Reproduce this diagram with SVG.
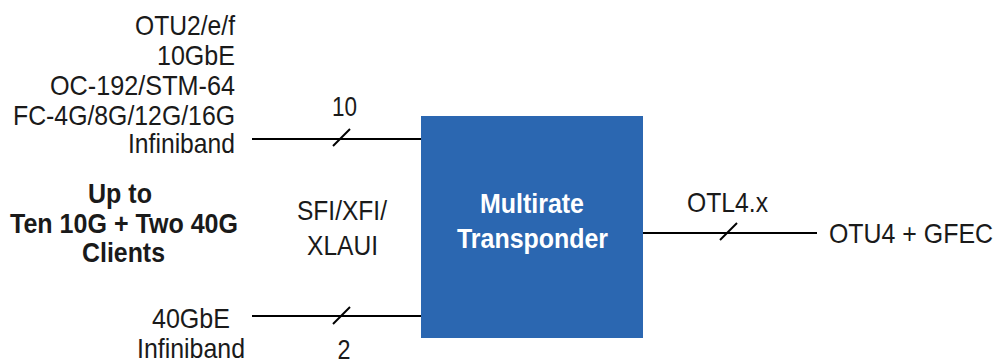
<svg xmlns="http://www.w3.org/2000/svg" width="997" height="360" viewBox="0 0 997 360">
  <style>
    .t { font-family: "Liberation Sans", Arial, sans-serif; font-size: 28px; fill: #1a1a1a; }
    .b { font-family: "Liberation Sans", Arial, sans-serif; font-size: 28px; font-weight: bold; fill: #1a1a1a; }
    .w { font-family: "Liberation Sans", Arial, sans-serif; font-size: 28px; font-weight: bold; fill: #ffffff; }
    .ln { stroke: #000000; stroke-width: 2.2; fill: none; }
    .sl { stroke: #000000; stroke-width: 2; fill: none; }
  </style>
  <rect width="997" height="360" fill="#ffffff"/>

  <g id="connectors">
    <line class="ln" x1="252" y1="139" x2="422" y2="139"/>
    <line class="sl" x1="333" y1="146" x2="350" y2="129"/>
    <line class="ln" x1="252" y1="316" x2="422" y2="316"/>
    <line class="sl" x1="333" y1="324" x2="350" y2="307"/>
    <line class="ln" x1="642" y1="233" x2="817" y2="233"/>
    <line class="sl" x1="720" y1="240" x2="737" y2="223"/>
  </g>

  <g id="transponder">
    <rect x="421" y="116" width="222" height="222" fill="#2b67b1"/>
    <text class="w" x="532" y="213" text-anchor="middle" textLength="104" lengthAdjust="spacingAndGlyphs">Multirate</text>
    <text class="w" x="532.5" y="248" text-anchor="middle" textLength="151" lengthAdjust="spacingAndGlyphs">Transponder</text>
  </g>

  <g id="clients-10g">
    <text class="t" x="235" y="35" text-anchor="end" textLength="100" lengthAdjust="spacingAndGlyphs">OTU2/e/f</text>
    <text class="t" x="235" y="65" text-anchor="end" textLength="78" lengthAdjust="spacingAndGlyphs">10GbE</text>
    <text class="t" x="235" y="95" text-anchor="end" textLength="185" lengthAdjust="spacingAndGlyphs">OC-192/STM-64</text>
    <text class="t" x="235" y="125" text-anchor="end" textLength="222" lengthAdjust="spacingAndGlyphs">FC-4G/8G/12G/16G</text>
    <text class="t" x="235" y="153" text-anchor="end" textLength="107" lengthAdjust="spacingAndGlyphs">Infiniband</text>
  </g>

  <g id="clients-40g">
    <text class="t" x="191" y="328" text-anchor="middle" textLength="78" lengthAdjust="spacingAndGlyphs">40GbE</text>
    <text class="t" x="191" y="358" text-anchor="middle" textLength="108" lengthAdjust="spacingAndGlyphs">Infiniband</text>
  </g>

  <g id="summary">
    <text class="b" x="120" y="203" text-anchor="middle" textLength="64" lengthAdjust="spacingAndGlyphs">Up to</text>
    <text class="b" x="124" y="233" text-anchor="middle" textLength="228" lengthAdjust="spacingAndGlyphs">Ten 10G + Two 40G</text>
    <text class="b" x="123.5" y="262" text-anchor="middle" textLength="83" lengthAdjust="spacingAndGlyphs">Clients</text>
  </g>

  <g id="interface">
    <text class="t" x="342" y="220" text-anchor="middle" textLength="90" lengthAdjust="spacingAndGlyphs">SFI/XFI/</text>
    <text class="t" x="342.5" y="255" text-anchor="middle" textLength="71" lengthAdjust="spacingAndGlyphs">XLAUI</text>
  </g>

  <g id="labels">
    <text class="t" x="344.5" y="116" text-anchor="middle" textLength="25" lengthAdjust="spacingAndGlyphs">10</text>
    <text class="t" x="344" y="359" text-anchor="middle" textLength="13" lengthAdjust="spacingAndGlyphs">2</text>
    <text class="t" x="727.5" y="212" text-anchor="middle" textLength="81" lengthAdjust="spacingAndGlyphs">OTL4.x</text>
  </g>

  <g id="line-side">
    <text class="t" x="829" y="243" textLength="164" lengthAdjust="spacingAndGlyphs">OTU4 + GFEC</text>
  </g>
</svg>
